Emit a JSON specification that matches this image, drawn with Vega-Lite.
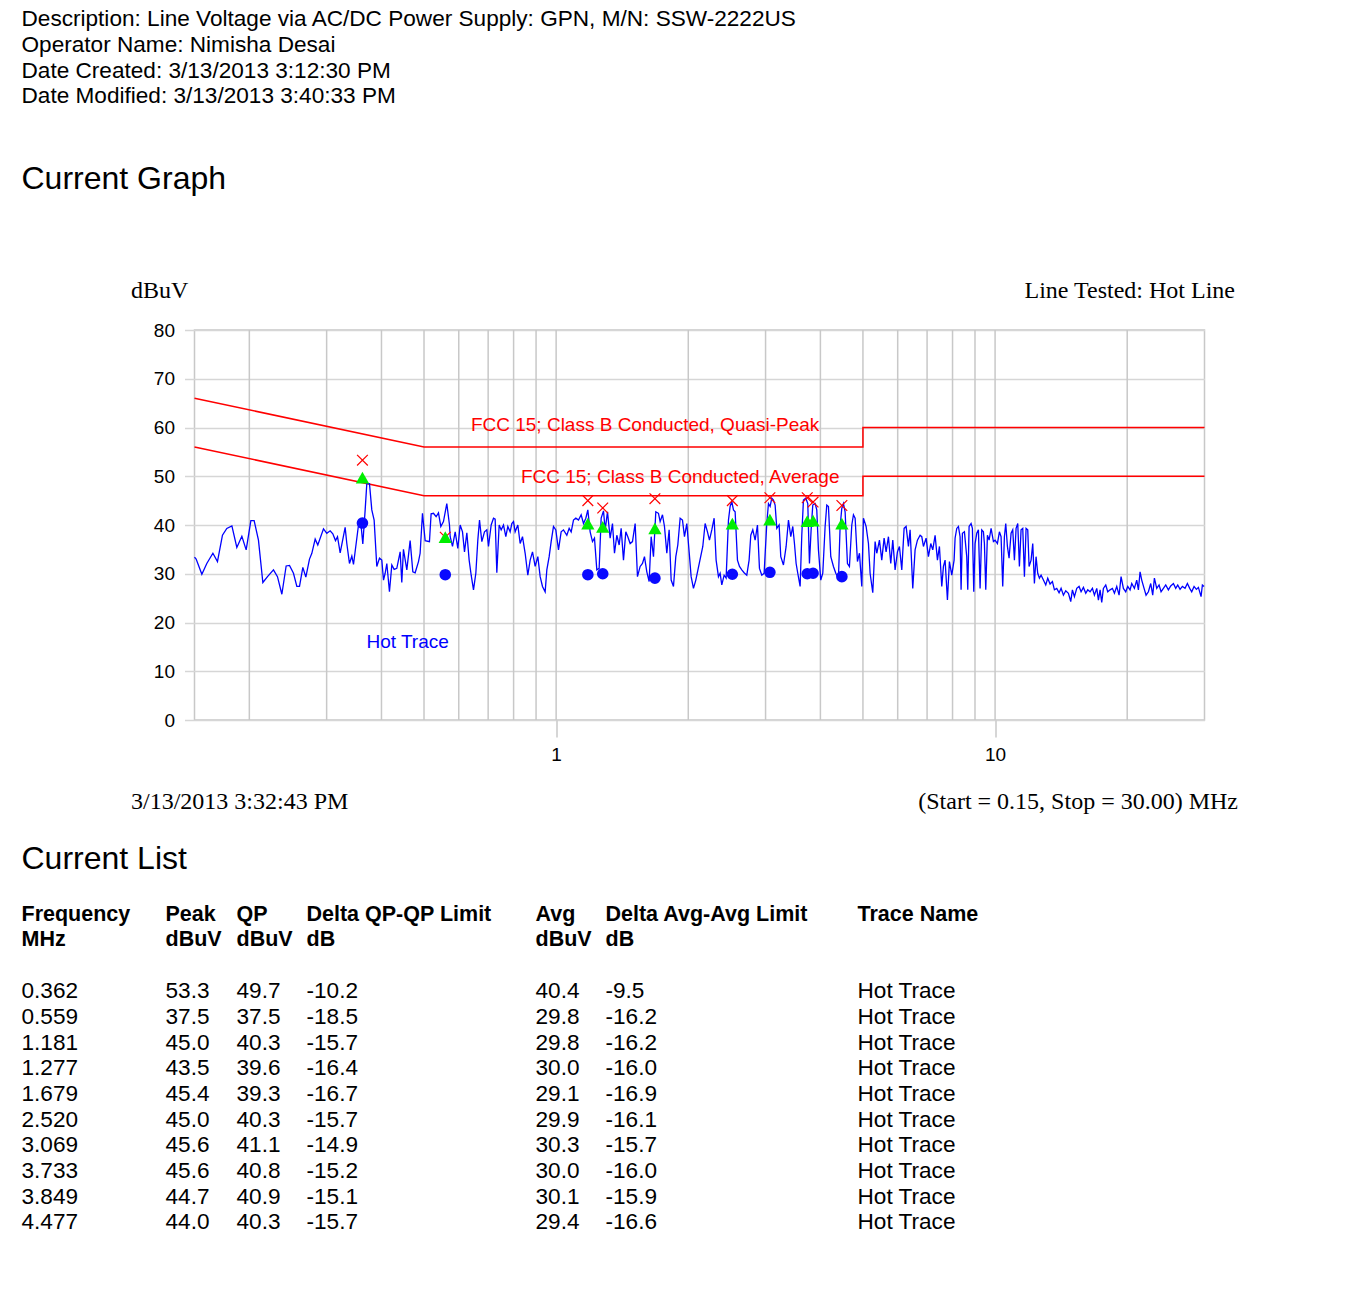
{
"$schema": "https://vega.github.io/schema/vega-lite/v6.json",
"background": "white",
"padding": {"left": 21.5, "top": 8, "right": 5, "bottom": 5},
"title": {"text": ["Description: Line Voltage via AC/DC Power Supply: GPN, M/N: SSW-2222US", "Operator Name: Nimisha Desai", "Date Created: 3/13/2013 3:12:30 PM", "Date Modified: 3/13/2013 3:40:33 PM"], "anchor": "start", "frame": "bounds", "font": "Liberation Sans", "fontSize": 22.6, "fontWeight": "normal", "color": "black", "lineHeight": 25.67, "offset": 55.4},
"datasets": {
"grid": [{"g":0.2},{"g":0.3},{"g":0.4},{"g":0.5},{"g":0.6},{"g":0.7},{"g":0.8},{"g":0.9},{"g":1},{"g":2},{"g":3},{"g":4},{"g":5},{"g":6},{"g":7},{"g":8},{"g":9},{"g":10},{"g":20}],
"limits": [
{"limit":"QP","ord":1,"freq":0.15,"dBuV":66},{"limit":"QP","ord":2,"freq":0.5,"dBuV":56},{"limit":"QP","ord":3,"freq":5,"dBuV":56},{"limit":"QP","ord":4,"freq":5,"dBuV":60},{"limit":"QP","ord":5,"freq":30,"dBuV":60},
{"limit":"Avg","ord":1,"freq":0.15,"dBuV":56},{"limit":"Avg","ord":2,"freq":0.5,"dBuV":46},{"limit":"Avg","ord":3,"freq":5,"dBuV":46},{"limit":"Avg","ord":4,"freq":5,"dBuV":50},{"limit":"Avg","ord":5,"freq":30,"dBuV":50}],
"limitLabels": [{"freq":1.595,"dBuV":60.5,"label":"FCC 15; Class B Conducted, Quasi-Peak"},{"freq":1.917,"dBuV":49.85,"label":"FCC 15; Class B Conducted, Average"}],
"traceLabel": [{"freq":0.4588,"dBuV":16.0,"label":"Hot Trace"}],
"list": [
{"freq":0.362,"peak":53.3,"qp":49.7,"dqp":-10.2,"avg":40.4,"davg":-9.5,"trace":"Hot Trace"},
{"freq":0.559,"peak":37.5,"qp":37.5,"dqp":-18.5,"avg":29.8,"davg":-16.2,"trace":"Hot Trace"},
{"freq":1.181,"peak":45.0,"qp":40.3,"dqp":-15.7,"avg":29.8,"davg":-16.2,"trace":"Hot Trace"},
{"freq":1.277,"peak":43.5,"qp":39.6,"dqp":-16.4,"avg":30.0,"davg":-16.0,"trace":"Hot Trace"},
{"freq":1.679,"peak":45.4,"qp":39.3,"dqp":-16.7,"avg":29.1,"davg":-16.9,"trace":"Hot Trace"},
{"freq":2.520,"peak":45.0,"qp":40.3,"dqp":-15.7,"avg":29.9,"davg":-16.1,"trace":"Hot Trace"},
{"freq":3.069,"peak":45.6,"qp":41.1,"dqp":-14.9,"avg":30.3,"davg":-15.7,"trace":"Hot Trace"},
{"freq":3.733,"peak":45.6,"qp":40.8,"dqp":-15.2,"avg":30.0,"davg":-16.0,"trace":"Hot Trace"},
{"freq":3.849,"peak":44.7,"qp":40.9,"dqp":-15.1,"avg":30.1,"davg":-15.9,"trace":"Hot Trace"},
{"freq":4.477,"peak":44.0,"qp":40.3,"dqp":-15.7,"avg":29.4,"davg":-16.6,"trace":"Hot Trace"}],
"trace": [
{"freq":0.15,"dBuV":33.4},{"freq":0.1513,"dBuV":33.0},{"freq":0.1559,"dBuV":29.9},{"freq":0.16,"dBuV":32.1},{"freq":0.1652,"dBuV":34.2},{"freq":0.1692,"dBuV":32.5},{"freq":0.1737,"dBuV":37.9},{"freq":0.1777,"dBuV":39.3},{"freq":0.1825,"dBuV":39.8},{"freq":0.1873,"dBuV":35.4},{"freq":0.1923,"dBuV":37.7},{"freq":0.1967,"dBuV":34.9},{"freq":0.2016,"dBuV":40.9},{"freq":0.2051,"dBuV":40.9},{"freq":0.2098,"dBuV":36.9},{"freq":0.2147,"dBuV":28.2},{"freq":0.22,"dBuV":29.4},{"freq":0.227,"dBuV":30.8},{"freq":0.2318,"dBuV":29.4},{"freq":0.2372,"dBuV":25.8},{"freq":0.2426,"dBuV":31.6},{"freq":0.2469,"dBuV":31.7},{"freq":0.2521,"dBuV":30.1},{"freq":0.2566,"dBuV":27.4},{"freq":0.2602,"dBuV":27.4},{"freq":0.2648,"dBuV":31.3},{"freq":0.269,"dBuV":29.3},{"freq":0.2742,"dBuV":33.0},{"freq":0.2776,"dBuV":34.2},{"freq":0.2825,"dBuV":37.1},{"freq":0.2864,"dBuV":35.9},{"freq":0.2951,"dBuV":39.2},{"freq":0.3003,"dBuV":38.3},{"freq":0.3056,"dBuV":38.8},{"freq":0.3099,"dBuV":38.2},{"freq":0.3143,"dBuV":36.8},{"freq":0.3176,"dBuV":37.6},{"freq":0.3221,"dBuV":34.3},{"freq":0.3306,"dBuV":39.5},{"freq":0.3335,"dBuV":36.2},{"freq":0.3382,"dBuV":32.1},{"freq":0.3424,"dBuV":33.6},{"freq":0.3454,"dBuV":31.9},{"freq":0.3546,"dBuV":40.0},{"freq":0.3596,"dBuV":39.7},{"freq":0.3627,"dBuV":36.1},{"freq":0.3672,"dBuV":43.1},{"freq":0.3704,"dBuV":48.5},{"freq":0.3756,"dBuV":48.5},{"freq":0.3802,"dBuV":43.1},{"freq":0.3849,"dBuV":41.0},{"freq":0.3903,"dBuV":31.5},{"freq":0.3959,"dBuV":33.2},{"freq":0.4007,"dBuV":32.8},{"freq":0.4043,"dBuV":28.7},{"freq":0.4078,"dBuV":30.1},{"freq":0.4114,"dBuV":32.1},{"freq":0.4171,"dBuV":26.3},{"freq":0.4223,"dBuV":31.8},{"freq":0.4275,"dBuV":30.9},{"freq":0.4335,"dBuV":31.1},{"freq":0.4412,"dBuV":34.5},{"freq":0.445,"dBuV":28.2},{"freq":0.4489,"dBuV":35.0},{"freq":0.4569,"dBuV":30.8},{"freq":0.4649,"dBuV":36.8},{"freq":0.4715,"dBuV":30.4},{"freq":0.4773,"dBuV":30.2},{"freq":0.4857,"dBuV":32.5},{"freq":0.4899,"dBuV":34.2},{"freq":0.496,"dBuV":42.4},{"freq":0.503,"dBuV":36.8},{"freq":0.5145,"dBuV":36.6},{"freq":0.519,"dBuV":42.3},{"freq":0.5255,"dBuV":42.4},{"freq":0.5328,"dBuV":41.7},{"freq":0.5394,"dBuV":42.5},{"freq":0.5461,"dBuV":39.7},{"freq":0.5537,"dBuV":40.7},{"freq":0.5635,"dBuV":44.4},{"freq":0.5715,"dBuV":40.0},
{"freq":0.5736,"dBuV":37.6},{"freq":0.5806,"dBuV":35.6},{"freq":0.5888,"dBuV":38.6},{"freq":0.5971,"dBuV":35.2},{"freq":0.6044,"dBuV":40.0},{"freq":0.6119,"dBuV":38.6},{"freq":0.6183,"dBuV":34.5},{"freq":0.626,"dBuV":38.4},{"freq":0.6336,"dBuV":32.8},{"freq":0.6404,"dBuV":29.7},{"freq":0.6482,"dBuV":26.7},{"freq":0.6562,"dBuV":30.1},{"freq":0.6631,"dBuV":36.9},{"freq":0.669,"dBuV":41.0},{"freq":0.6772,"dBuV":36.6},{"freq":0.6867,"dBuV":38.6},{"freq":0.6952,"dBuV":39.0},{"freq":0.7013,"dBuV":35.6},{"freq":0.7112,"dBuV":40.0},{"freq":0.7199,"dBuV":41.4},{"freq":0.7262,"dBuV":41.2},{"freq":0.7326,"dBuV":30.2},{"freq":0.7416,"dBuV":40.0},{"freq":0.7495,"dBuV":39.0},{"freq":0.7587,"dBuV":40.0},{"freq":0.768,"dBuV":37.6},{"freq":0.7761,"dBuV":39.7},{"freq":0.7856,"dBuV":38.6},{"freq":0.7926,"dBuV":40.3},{"freq":0.7996,"dBuV":40.7},{"freq":0.8065,"dBuV":38.6},{"freq":0.8179,"dBuV":40.0},{"freq":0.828,"dBuV":36.2},{"freq":0.8382,"dBuV":37.6},{"freq":0.85,"dBuV":34.2},{"freq":0.8619,"dBuV":29.7},{"freq":0.8726,"dBuV":32.8},{"freq":0.8834,"dBuV":34.5},{"freq":0.8958,"dBuV":31.5},{"freq":0.9084,"dBuV":33.5},{"freq":0.9196,"dBuV":29.4},{"freq":0.9309,"dBuV":27.4},{"freq":0.944,"dBuV":26.3},{"freq":0.9523,"dBuV":30.8},{"freq":0.964,"dBuV":33.5},{"freq":0.9742,"dBuV":36.6},{"freq":0.9862,"dBuV":39.7},{"freq":0.9983,"dBuV":39.0},{"freq":1.0124,"dBuV":34.9},{"freq":1.0266,"dBuV":38.6},{"freq":1.0393,"dBuV":39.0},{"freq":1.0577,"dBuV":37.9},{"freq":1.0707,"dBuV":39.3},{"freq":1.082,"dBuV":38.6},{"freq":1.0953,"dBuV":41.0},{"freq":1.1088,"dBuV":41.4},{"freq":1.1244,"dBuV":41.0},{"freq":1.1402,"dBuV":42.1},{"freq":1.1543,"dBuV":40.3},{"freq":1.1685,"dBuV":41.4},{"freq":1.1808,"dBuV":43.1},{"freq":1.1953,"dBuV":38.6},{"freq":1.2101,"dBuV":36.6},{"freq":1.2228,"dBuV":37.3},{"freq":1.2379,"dBuV":30.8},{"freq":1.2531,"dBuV":31.1},{"freq":1.2664,"dBuV":41.4},{"freq":1.282,"dBuV":42.9},{"freq":1.2933,"dBuV":39.0},{"freq":1.3091,"dBuV":42.7},{"freq":1.3275,"dBuV":37.3},{"freq":1.3439,"dBuV":40.3},{"freq":1.3581,"dBuV":34.2},{"freq":1.3748,"dBuV":37.9},{"freq":1.3917,"dBuV":35.9},{"freq":1.4064,"dBuV":39.3},{"freq":1.4237,"dBuV":32.8},{"freq":1.4412,"dBuV":38.6},{"freq":1.4564,"dBuV":37.6},{"freq":1.4744,"dBuV":36.2},{"freq":1.4925,"dBuV":36.6},{"freq":1.5136,"dBuV":40.3},{"freq":1.5321,"dBuV":29.4},{"freq":1.5538,"dBuV":31.5},{"freq":1.5729,"dBuV":32.1},{"freq":1.5894,"dBuV":33.5},{"freq":1.6091,"dBuV":30.4},{"freq":1.6289,"dBuV":28.4},{"freq":1.6461,"dBuV":37.6},{"freq":1.6664,"dBuV":33.5},{"freq":1.6868,"dBuV":42.7},{"freq":1.7105,"dBuV":42.4},{"freq":1.7255,"dBuV":40.7},{"freq":1.7469,"dBuV":42.1},{"freq":1.7653,"dBuV":39.7},{"freq":1.7871,"dBuV":34.2},{"freq":1.809,"dBuV":39.0},{"freq":1.8282,"dBuV":28.7},{"freq":1.8506,"dBuV":27.4},{"freq":1.8734,"dBuV":33.5},{"freq":1.8931,"dBuV":35.9},{"freq":1.9165,"dBuV":41.4},{"freq":1.9401,"dBuV":41.0},{"freq":1.9606,"dBuV":37.6},{"freq":1.9847,"dBuV":40.3},{"freq":2.009,"dBuV":34.5},{"freq":2.0303,"dBuV":29.4},{"freq":2.0552,"dBuV":27.0},{"freq":2.0806,"dBuV":28.7},
{"freq":2.1583,"dBuV":35.6},{"freq":2.1849,"dBuV":40.3},{"freq":2.2117,"dBuV":38.6},{"freq":2.2351,"dBuV":36.9},{"freq":2.2626,"dBuV":39.0},{"freq":2.2905,"dBuV":41.4},{"freq":2.3145,"dBuV":32.8},{"freq":2.3432,"dBuV":29.4},{"freq":2.3636,"dBuV":30.1},{"freq":2.3845,"dBuV":27.7},{"freq":2.4138,"dBuV":29.7},{"freq":2.4393,"dBuV":29.1},{"freq":2.4693,"dBuV":41.0},{"freq":2.4909,"dBuV":43.8},{"freq":2.5127,"dBuV":44.8},{"freq":2.5349,"dBuV":43.1},{"freq":2.5572,"dBuV":42.7},{"freq":2.5887,"dBuV":32.8},{"freq":2.6161,"dBuV":31.5},{"freq":2.6482,"dBuV":30.8},{"freq":2.6807,"dBuV":30.2},{"freq":2.7185,"dBuV":29.7},{"freq":2.7519,"dBuV":32.8},{"freq":2.7762,"dBuV":37.9},{"freq":2.8055,"dBuV":39.0},{"freq":2.8401,"dBuV":36.9},{"freq":2.875,"dBuV":40.0},{"freq":2.9054,"dBuV":31.1},{"freq":2.9411,"dBuV":29.7},{"freq":2.9773,"dBuV":30.1},{"freq":3.0192,"dBuV":40.3},{"freq":3.0458,"dBuV":44.4},{"freq":3.0724,"dBuV":43.8},{"freq":3.0995,"dBuV":45.5},{"freq":3.1267,"dBuV":45.1},{"freq":3.1542,"dBuV":44.1},{"freq":3.182,"dBuV":39.3},{"freq":3.2209,"dBuV":40.0},{"freq":3.2493,"dBuV":33.5},{"freq":3.2952,"dBuV":31.8},{"freq":3.3417,"dBuV":35.6},{"freq":3.3829,"dBuV":41.0},{"freq":3.4244,"dBuV":37.6},{"freq":3.4606,"dBuV":39.7},{"freq":3.4909,"dBuV":36.2},{"freq":3.5216,"dBuV":32.1},{"freq":3.5522,"dBuV":30.1},{"freq":3.5962,"dBuV":27.4},{"freq":3.6278,"dBuV":37.9},{"freq":3.6595,"dBuV":45.1},{"freq":3.7048,"dBuV":45.5},{"freq":3.7436,"dBuV":44.4},{"freq":3.7767,"dBuV":32.1},{"freq":3.8098,"dBuV":39.0},{"freq":3.8432,"dBuV":44.1},{"freq":3.8903,"dBuV":44.4},{"freq":3.9247,"dBuV":43.1},{"freq":3.9592,"dBuV":34.9},{"freq":4.0079,"dBuV":28.7},{"freq":4.0503,"dBuV":30.1},{"freq":4.1001,"dBuV":39.7},{"freq":4.1362,"dBuV":44.1},{"freq":4.1723,"dBuV":43.8},{"freq":4.2237,"dBuV":33.5},{"freq":4.2833,"dBuV":31.5},{"freq":4.3359,"dBuV":30.1},{"freq":4.3972,"dBuV":29.1},{"freq":4.4357,"dBuV":39.7},{"freq":4.4747,"dBuV":43.4},{"freq":4.5141,"dBuV":44.4},{"freq":4.5535,"dBuV":42.7},{"freq":4.6096,"dBuV":32.1},{"freq":4.658,"dBuV":31.5},{"freq":4.7158,"dBuV":40.0},{"freq":4.7569,"dBuV":42.1},{"freq":4.799,"dBuV":41.4},{"freq":4.8579,"dBuV":32.5},{"freq":4.9093,"dBuV":34.2},{"freq":4.9696,"dBuV":27.4},{"freq":5.0131,"dBuV":41.4},{"freq":5.0837,"dBuV":39.7},{"freq":5.1464,"dBuV":36.2},{"freq":5.1913,"dBuV":30.1},{"freq":5.2647,"dBuV":26.1},{"freq":5.3295,"dBuV":36.6},{"freq":5.3765,"dBuV":34.2},{"freq":5.452,"dBuV":36.9},{"freq":5.5188,"dBuV":32.8},{"freq":5.5871,"dBuV":37.3},{"freq":5.6461,"dBuV":34.5},{"freq":5.7157,"dBuV":37.6},{"freq":5.7858,"dBuV":32.1},{"freq":5.8471,"dBuV":36.9},{"freq":5.9189,"dBuV":30.8},{"freq":5.9918,"dBuV":34.5},{"freq":6.0547,"dBuV":35.6},{"freq":6.1297,"dBuV":30.8},{"freq":6.205,"dBuV":39.3},{"freq":6.2706,"dBuV":39.7},{"freq":6.3478,"dBuV":35.6},{"freq":6.4037,"dBuV":39.0},{"freq":6.4936,"dBuV":27.0},{"freq":6.5732,"dBuV":34.9},{"freq":6.6545,"dBuV":36.9},{"freq":6.748,"dBuV":37.9},{"freq":6.8077,"dBuV":37.6},{"freq":6.8673,"dBuV":35.6},{"freq":6.9642,"dBuV":37.3},{"freq":7.0497,"dBuV":33.5},{"freq":7.1366,"dBuV":36.2},{"freq":7.2115,"dBuV":34.9},{"freq":7.3007,"dBuV":37.9},{"freq":7.3904,"dBuV":32.8},{"freq":7.4686,"dBuV":35.6},{"freq":7.5605,"dBuV":27.4},{"freq":7.6271,"dBuV":31.5},{"freq":7.6937,"dBuV":32.8},{"freq":7.7885,"dBuV":24.6},{"freq":7.8703,"dBuV":32.5},{"freq":7.9677,"dBuV":29.7},{"freq":8.0657,"dBuV":32.8},
{"freq":8.108,"dBuV":37.3},{"freq":8.179,"dBuV":39.3},{"freq":8.251,"dBuV":39.7},{"freq":8.323,"dBuV":37.6},{"freq":8.367,"dBuV":26.7},{"freq":8.426,"dBuV":38.3},{"freq":8.515,"dBuV":38.6},{"freq":8.619,"dBuV":33.5},{"freq":8.665,"dBuV":26.7},{"freq":8.726,"dBuV":39.7},{"freq":8.817,"dBuV":40.3},{"freq":8.879,"dBuV":39.3},{"freq":8.942,"dBuV":26.3},{"freq":9.004,"dBuV":36.2},{"freq":9.084,"dBuV":38.3},{"freq":9.163,"dBuV":39.0},{"freq":9.244,"dBuV":27.0},{"freq":9.325,"dBuV":39.0},{"freq":9.407,"dBuV":38.6},{"freq":9.456,"dBuV":36.2},{"freq":9.523,"dBuV":26.7},{"freq":9.606,"dBuV":37.9},{"freq":9.691,"dBuV":36.9},{"freq":9.793,"dBuV":39.3},{"freq":9.914,"dBuV":36.6},{"freq":10.001,"dBuV":36.9},{"freq":10.123,"dBuV":36.2},{"freq":10.23,"dBuV":38.6},{"freq":10.32,"dBuV":37.6},{"freq":10.41,"dBuV":27.4},{"freq":10.502,"dBuV":37.6},{"freq":10.576,"dBuV":40.3},{"freq":10.669,"dBuV":35.6},{"freq":10.762,"dBuV":33.2},{"freq":10.876,"dBuV":38.3},{"freq":10.971,"dBuV":39.0},{"freq":11.068,"dBuV":32.8},{"freq":11.165,"dBuV":39.3},{"freq":11.263,"dBuV":40.3},{"freq":11.361,"dBuV":31.5},{"freq":11.461,"dBuV":39.0},{"freq":11.563,"dBuV":39.3},{"freq":11.664,"dBuV":29.4},{"freq":11.766,"dBuV":39.3},{"freq":11.87,"dBuV":39.0},{"freq":11.953,"dBuV":31.5},{"freq":12.079,"dBuV":32.8},{"freq":12.185,"dBuV":36.2},{"freq":12.292,"dBuV":28.0},{"freq":12.399,"dBuV":33.5},{"freq":12.508,"dBuV":30.1},{"freq":12.62,"dBuV":29.1},{"freq":12.73,"dBuV":29.7},{"freq":12.887,"dBuV":28.7},{"freq":13.045,"dBuV":27.7},{"freq":13.183,"dBuV":29.1},{"freq":13.345,"dBuV":27.9},{"freq":13.51,"dBuV":28.4},{"freq":13.652,"dBuV":26.7},{"freq":13.82,"dBuV":27.0},{"freq":13.99,"dBuV":26.1},{"freq":14.138,"dBuV":27.0},{"freq":14.312,"dBuV":25.6},{"freq":14.487,"dBuV":26.5},{"freq":14.692,"dBuV":26.0},{"freq":14.873,"dBuV":24.3},{"freq":15.004,"dBuV":26.7},{"freq":15.162,"dBuV":25.3},{"freq":15.349,"dBuV":27.0},{"freq":15.537,"dBuV":27.4},{"freq":15.702,"dBuV":26.3},{"freq":15.895,"dBuV":27.2},{"freq":16.091,"dBuV":26.0},{"freq":16.26,"dBuV":26.7},{"freq":16.461,"dBuV":26.3},{"freq":16.663,"dBuV":27.0},{"freq":16.839,"dBuV":25.6},{"freq":17.047,"dBuV":27.0},{"freq":17.197,"dBuV":24.6},{"freq":17.347,"dBuV":26.7},{"freq":17.498,"dBuV":24.1},{"freq":17.652,"dBuV":27.0},{"freq":17.87,"dBuV":27.7},{"freq":18.059,"dBuV":26.3},{"freq":18.282,"dBuV":26.7},{"freq":18.506,"dBuV":27.0},{"freq":18.702,"dBuV":26.0},{"freq":18.932,"dBuV":27.4},{"freq":19.165,"dBuV":25.6},{"freq":19.366,"dBuV":29.4},{"freq":19.605,"dBuV":27.0},{"freq":19.846,"dBuV":26.3},{"freq":20.056,"dBuV":27.4},{"freq":20.303,"dBuV":26.7},{"freq":20.482,"dBuV":28.0},{"freq":20.769,"dBuV":27.0},{"freq":21.024,"dBuV":28.7},{"freq":21.21,"dBuV":26.7},{"freq":21.396,"dBuV":30.4},{"freq":21.583,"dBuV":28.7},{"freq":21.85,"dBuV":27.0},{"freq":22.079,"dBuV":25.6},{"freq":22.353,"dBuV":26.3},{"freq":22.627,"dBuV":28.0},{"freq":22.864,"dBuV":25.6},{"freq":23.066,"dBuV":29.1},{"freq":23.351,"dBuV":27.0},{"freq":23.638,"dBuV":27.7},{"freq":23.888,"dBuV":26.3},{"freq":24.182,"dBuV":27.0},{"freq":24.478,"dBuV":27.7},{"freq":24.823,"dBuV":26.7},{"freq":25.129,"dBuV":27.5},{"freq":25.484,"dBuV":28.0},{"freq":25.797,"dBuV":27.0},{"freq":26.07,"dBuV":27.7},{"freq":26.391,"dBuV":26.8},{"freq":26.714,"dBuV":27.4},{"freq":27.09,"dBuV":27.0},{"freq":27.424,"dBuV":28.0},{"freq":27.762,"dBuV":27.0},{"freq":28.055,"dBuV":26.3},{"freq":28.402,"dBuV":27.4},{"freq":28.749,"dBuV":26.8},{"freq":29.055,"dBuV":27.2},{"freq":29.463,"dBuV":25.3},{"freq":29.67,"dBuV":27.7},{"freq":29.929,"dBuV":27.4}]
},
"vconcat": [
{
"title": {"text": "Current Graph", "anchor": "start", "frame": "bounds", "font": "Liberation Sans", "fontSize": 32, "fontWeight": "normal", "color": "black", "offset": 81},
"spacing": 0,
"hconcat": [
{"width": 108, "height": 10, "view": {"stroke": null}, "data": {"values": []}, "mark": "point"},
{
"width": 1010,
"height": 390,
"view": {"stroke": "#c8c8c8", "strokeWidth": 1.5},
"resolve": {"axis": {"x": "independent", "y": "independent"}},
"layer": [
{
"data": {"name": "grid"},
"mark": {"type": "rule", "color": "#c8c8c8", "strokeWidth": 1.5},
"encoding": {
"x": {"field": "g", "type": "quantitative", "scale": {"type": "log", "domain": [0.15, 30], "nice": false},
"axis": {"orient": "top", "labels": false, "ticks": false, "domain": false, "grid": false, "title": "3/13/2013 3:32:43 PM", "titleFont": "Liberation Serif", "titleFontSize": 24, "titleFontWeight": "normal", "titleColor": "black", "titleAlign": "left", "titleAnchor": "start", "titleBaseline": "alphabetic", "titleAngle": 0, "titleX": -64, "titleY": 478}}
}
},
{
"data": {"name": "limits"},
"mark": {"type": "line", "color": "#ff0000", "strokeWidth": 1.5},
"encoding": {
"x": {"field": "freq", "type": "quantitative", "scale": {"type": "log", "domain": [0.15, 30], "nice": false}, "axis": null},
"y": {"field": "dBuV", "type": "quantitative", "scale": {"domain": [0, 80], "nice": false},
"axis": {"orient": "right", "labels": false, "ticks": false, "domain": false, "grid": false, "title": "Line Tested: Hot Line", "titleFont": "Liberation Serif", "titleFontSize": 24, "titleFontWeight": "normal", "titleColor": "black", "titleAngle": 0, "titleAlign": "right", "titleBaseline": "alphabetic", "titleX": 30, "titleY": -33}},
"detail": {"field": "limit", "type": "nominal"},
"order": {"field": "ord", "type": "quantitative"}
}
},
{
"data": {"name": "trace"},
"mark": {"type": "line", "color": "#0000ff", "strokeWidth": 1.3},
"encoding": {
"x": {"field": "freq", "type": "quantitative", "scale": {"type": "log", "domain": [0.15, 30], "nice": false},
"axis": {"orient": "bottom", "values": [1, 10], "format": "d", "grid": false, "domain": false, "ticks": true, "tickSize": 17, "tickColor": "#c8c8c8", "tickWidth": 1.5, "labelFont": "Liberation Sans", "labelFontSize": 19, "labelColor": "black", "labelPadding": 8, "labelFlush": false, "title": "(Start = 0.15, Stop = 30.00) MHz", "titleFont": "Liberation Serif", "titleFontSize": 24, "titleFontWeight": "normal", "titleColor": "black", "titleAlign": "right", "titleAnchor": "end", "titleBaseline": "alphabetic", "titleX": 1043, "titleY": 88}},
"y": {"field": "dBuV", "type": "quantitative", "scale": {"domain": [0, 80], "nice": false},
"axis": {"orient": "left", "values": [0, 10, 20, 30, 40, 50, 60, 70, 80], "grid": true, "gridColor": "#d6d6d6", "gridWidth": 1.5, "domain": false, "ticks": true, "tickSize": 10, "tickColor": "#d6d6d6", "tickWidth": 1.5, "labelFont": "Liberation Sans", "labelFontSize": 19, "labelColor": "black", "labelPadding": 10, "title": "dBuV", "titleFont": "Liberation Serif", "titleFontSize": 24, "titleFontWeight": "normal", "titleColor": "black", "titleAngle": 0, "titleAlign": "left", "titleBaseline": "alphabetic", "titleX": -64, "titleY": -33}}
}
},
{
"data": {"name": "limitLabels"},
"mark": {"type": "text", "color": "#ff0000", "font": "Liberation Sans", "fontSize": 19, "align": "center", "baseline": "middle"},
"encoding": {
"x": {"field": "freq", "type": "quantitative", "scale": {"type": "log", "domain": [0.15, 30], "nice": false}, "axis": null},
"y": {"field": "dBuV", "type": "quantitative", "scale": {"domain": [0, 80], "nice": false}, "axis": null},
"text": {"field": "label"}
}
},
{
"data": {"name": "traceLabel"},
"mark": {"type": "text", "color": "#0000ff", "font": "Liberation Sans", "fontSize": 19, "align": "center", "baseline": "middle"},
"encoding": {
"x": {"field": "freq", "type": "quantitative", "scale": {"type": "log", "domain": [0.15, 30], "nice": false}, "axis": null},
"y": {"field": "dBuV", "type": "quantitative", "scale": {"domain": [0, 80], "nice": false}, "axis": null},
"text": {"field": "label"}
}
},
{
"data": {"name": "list"},
"mark": {"type": "point", "shape": "M-1,-1L1,1M-1,1L1,-1", "filled": false, "stroke": "#ff0000", "strokeWidth": 1.2, "size": 115, "opacity": 1},
"encoding": {
"x": {"field": "freq", "type": "quantitative", "scale": {"type": "log", "domain": [0.15, 30], "nice": false}, "axis": null},
"y": {"field": "peak", "type": "quantitative", "scale": {"domain": [0, 80], "nice": false}, "axis": null}
}
},
{
"data": {"name": "list"},
"mark": {"type": "point", "shape": "M0,-0.88L1,0.88L-1,0.88Z", "filled": true, "color": "#00ee00", "size": 177, "opacity": 1},
"encoding": {
"x": {"field": "freq", "type": "quantitative", "scale": {"type": "log", "domain": [0.15, 30], "nice": false}, "axis": null},
"y": {"field": "qp", "type": "quantitative", "scale": {"domain": [0, 80], "nice": false}, "axis": null}
}
},
{
"data": {"name": "list"},
"mark": {"type": "point", "shape": "circle", "filled": true, "color": "#0a0aff", "size": 135, "opacity": 1},
"encoding": {
"x": {"field": "freq", "type": "quantitative", "scale": {"type": "log", "domain": [0.15, 30], "nice": false}, "axis": null},
"y": {"field": "avg", "type": "quantitative", "scale": {"domain": [0, 80], "nice": false}, "axis": null}
}
}
]
}
]
},
{
"title": {"text": "Current List", "anchor": "start", "frame": "bounds", "font": "Liberation Sans", "fontSize": 32, "fontWeight": "normal", "color": "black", "offset": 27.5},
"spacing": 0,
"hconcat": [
{"width": 144, "height": 256.7, "view": {"stroke": null}, "data": {"name": "list"},
"title": {"text": ["Frequency", "MHz"], "anchor": "start", "frame": "group", "font": "Liberation Sans", "fontSize": 21.5, "fontWeight": "bold", "color": "black", "lineHeight": 25.67, "offset": 27.5},
"mark": {"type": "text", "align": "left", "baseline": "middle", "font": "Liberation Sans", "fontSize": 22.6, "color": "black"},
"encoding": {"x": {"field": "trace", "type": "nominal", "scale": {"type": "point", "padding": 0, "align": 0}, "axis": null},
"y": {"field": "freq", "type": "ordinal", "sort": null, "scale": {"type": "band", "paddingInner": 0, "paddingOuter": 0}, "axis": null},
"text": {"field": "freq", "type": "quantitative", "format": ".3f"}}},
{"width": 71, "height": 256.7, "view": {"stroke": null}, "data": {"name": "list"},
"title": {"text": ["Peak", "dBuV"], "anchor": "start", "frame": "group", "font": "Liberation Sans", "fontSize": 21.5, "fontWeight": "bold", "color": "black", "lineHeight": 25.67, "offset": 27.5},
"mark": {"type": "text", "align": "left", "baseline": "middle", "font": "Liberation Sans", "fontSize": 22.6, "color": "black"},
"encoding": {"x": {"field": "trace", "type": "nominal", "scale": {"type": "point", "padding": 0, "align": 0}, "axis": null},
"y": {"field": "freq", "type": "ordinal", "sort": null, "scale": {"type": "band", "paddingInner": 0, "paddingOuter": 0}, "axis": null},
"text": {"field": "peak", "type": "quantitative", "format": ".1f"}}},
{"width": 70, "height": 256.7, "view": {"stroke": null}, "data": {"name": "list"},
"title": {"text": ["QP", "dBuV"], "anchor": "start", "frame": "group", "font": "Liberation Sans", "fontSize": 21.5, "fontWeight": "bold", "color": "black", "lineHeight": 25.67, "offset": 27.5},
"mark": {"type": "text", "align": "left", "baseline": "middle", "font": "Liberation Sans", "fontSize": 22.6, "color": "black"},
"encoding": {"x": {"field": "trace", "type": "nominal", "scale": {"type": "point", "padding": 0, "align": 0}, "axis": null},
"y": {"field": "freq", "type": "ordinal", "sort": null, "scale": {"type": "band", "paddingInner": 0, "paddingOuter": 0}, "axis": null},
"text": {"field": "qp", "type": "quantitative", "format": ".1f"}}},
{"width": 229, "height": 256.7, "view": {"stroke": null}, "data": {"name": "list"},
"title": {"text": ["Delta QP-QP Limit", "dB"], "anchor": "start", "frame": "group", "font": "Liberation Sans", "fontSize": 21.5, "fontWeight": "bold", "color": "black", "lineHeight": 25.67, "offset": 27.5},
"mark": {"type": "text", "align": "left", "baseline": "middle", "font": "Liberation Sans", "fontSize": 22.6, "color": "black"},
"encoding": {"x": {"field": "trace", "type": "nominal", "scale": {"type": "point", "padding": 0, "align": 0}, "axis": null},
"y": {"field": "freq", "type": "ordinal", "sort": null, "scale": {"type": "band", "paddingInner": 0, "paddingOuter": 0}, "axis": null},
"text": {"field": "dqp", "type": "quantitative", "format": ".1f"}}},
{"width": 70, "height": 256.7, "view": {"stroke": null}, "data": {"name": "list"},
"title": {"text": ["Avg", "dBuV"], "anchor": "start", "frame": "group", "font": "Liberation Sans", "fontSize": 21.5, "fontWeight": "bold", "color": "black", "lineHeight": 25.67, "offset": 27.5},
"mark": {"type": "text", "align": "left", "baseline": "middle", "font": "Liberation Sans", "fontSize": 22.6, "color": "black"},
"encoding": {"x": {"field": "trace", "type": "nominal", "scale": {"type": "point", "padding": 0, "align": 0}, "axis": null},
"y": {"field": "freq", "type": "ordinal", "sort": null, "scale": {"type": "band", "paddingInner": 0, "paddingOuter": 0}, "axis": null},
"text": {"field": "avg", "type": "quantitative", "format": ".1f"}}},
{"width": 252, "height": 256.7, "view": {"stroke": null}, "data": {"name": "list"},
"title": {"text": ["Delta Avg-Avg Limit", "dB"], "anchor": "start", "frame": "group", "font": "Liberation Sans", "fontSize": 21.5, "fontWeight": "bold", "color": "black", "lineHeight": 25.67, "offset": 27.5},
"mark": {"type": "text", "align": "left", "baseline": "middle", "font": "Liberation Sans", "fontSize": 22.6, "color": "black"},
"encoding": {"x": {"field": "trace", "type": "nominal", "scale": {"type": "point", "padding": 0, "align": 0}, "axis": null},
"y": {"field": "freq", "type": "ordinal", "sort": null, "scale": {"type": "band", "paddingInner": 0, "paddingOuter": 0}, "axis": null},
"text": {"field": "davg", "type": "quantitative", "format": ".1f"}}},
{"width": 150, "height": 256.7, "view": {"stroke": null}, "data": {"name": "list"},
"title": {"text": ["Trace Name", " "], "anchor": "start", "frame": "group", "font": "Liberation Sans", "fontSize": 21.5, "fontWeight": "bold", "color": "black", "lineHeight": 25.67, "offset": 27.5},
"mark": {"type": "text", "align": "left", "baseline": "middle", "font": "Liberation Sans", "fontSize": 22.6, "color": "black"},
"encoding": {"x": {"field": "trace", "type": "nominal", "scale": {"type": "point", "padding": 0, "align": 0}, "axis": null},
"y": {"field": "freq", "type": "ordinal", "sort": null, "scale": {"type": "band", "paddingInner": 0, "paddingOuter": 0}, "axis": null},
"text": {"field": "trace"}}}
]
}
],
"spacing": 28.5,
"config": {"view": {"stroke": null}, "font": "Liberation Sans", "locale": {"number": {"decimal": ".", "thousands": ",", "grouping": [3], "currency": ["$", ""], "minus": "-"}}}
}
